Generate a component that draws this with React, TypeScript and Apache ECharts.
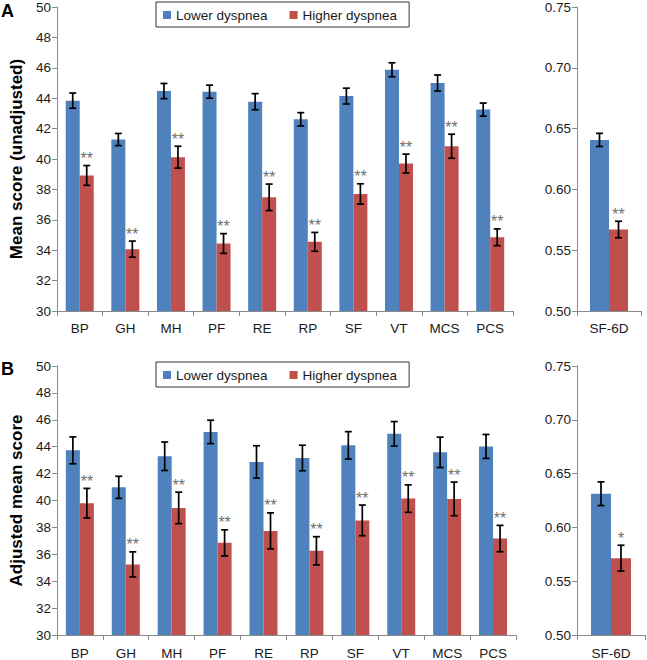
import React, { useEffect, useRef } from "react";
import * as echarts from "echarts";

const categories = ["BP", "GH", "MH", "PF", "RE", "RP", "SF", "VT", "MCS", "PCS"];
const sf6dCategory = ["SF-6D"];
const seriesNames = ["Lower dyspnea", "Higher dyspnea"];

// Panel A: mean score (unadjusted)
const aLower = [43.84, 41.28, 44.47, 44.43, 43.77, 42.61, 44.14, 45.87, 45.0, 43.25];
const aLowerErr = [0.5, 0.4, 0.5, 0.43, 0.53, 0.44, 0.52, 0.46, 0.53, 0.43];
const aHigher = [38.92, 34.07, 40.12, 34.44, 37.48, 34.55, 37.7, 39.7, 40.84, 34.85];
const aHigherErr = [0.65, 0.53, 0.72, 0.65, 0.87, 0.62, 0.67, 0.62, 0.79, 0.55];
const aSig = ["**", "**", "**", "**", "**", "**", "**", "**", "**", "**"];
const aSfLower = [0.6407];
const aSfLowerErr = [0.0054];
const aSfHigher = [0.567];
const aSfHigherErr = [0.0068];
const aSfSig = ["**"];

// Panel B: adjusted mean score
const bLower = [43.73, 40.98, 43.29, 45.1, 42.87, 43.16, 44.1, 44.96, 43.58, 44.02];
const bLowerErr = [1.0, 0.82, 1.06, 0.87, 1.2, 0.95, 1.02, 0.91, 1.13, 0.89];
const bHigher = [39.8, 35.25, 39.45, 36.85, 37.74, 36.26, 38.52, 40.14, 40.12, 37.17];
const bHigherErr = [1.1, 0.93, 1.17, 0.97, 1.34, 1.05, 1.14, 1.02, 1.25, 0.98];
const bSig = ["**", "**", "**", "**", "**", "**", "**", "**", "**", "**"];
const bSfLower = [0.6313];
const bSfLowerErr = [0.011];
const bSfHigher = [0.5714];
const bSfHigherErr = [0.012];
const bSfSig = ["*"];

const FONT = "'Liberation Sans', Arial, sans-serif";
const BLUE = "#4F81BD";
const RED = "#C0504D";
const AXIS = "#8a8a8a";

function errSeries(axisIdx: number, values: number[], errs: number[], sigs: string[] | null, sign: number, barW: number) {
  return {
    type: "custom",
    name: "err" + axisIdx + "_" + sign,
    xAxisIndex: axisIdx,
    yAxisIndex: axisIdx,
    silent: true,
    z: 10,
    data: values.map((v, i) => [i, v, errs[i]]),
    renderItem: (params: any, api: any) => {
      const i = api.value(0);
      const v = api.value(1);
      const e = api.value(2);
      const top = api.coord([i, v + e]);
      const bot = api.coord([i, v - e]);
      const x = top[0] + (sign * barW) / 2;
      const cap = 3.5;
      const st = { stroke: "#000", lineWidth: 1.7 };
      const children: any[] = [
        { type: "line", shape: { x1: x, y1: top[1], x2: x, y2: bot[1] }, style: st },
        { type: "line", shape: { x1: x - cap, y1: top[1], x2: x + cap, y2: top[1] }, style: st },
        { type: "line", shape: { x1: x - cap, y1: bot[1], x2: x + cap, y2: bot[1] }, style: st },
      ];
      const s = sigs ? sigs[params.dataIndex] : "";
      if (s) {
        children.push({
          type: "text",
          x: x,
          y: top[1] - 7,
          style: {
            text: s,
            fill: "#707070",
            fontSize: 16,
            fontFamily: FONT,
            align: "center",
            verticalAlign: "middle",
          },
        });
      }
      return { type: "group", children };
    },
  };
}

function xAxisOf(gridIndex: number, data: string[], margin: number) {
  return {
    type: "category",
    gridIndex,
    data,
    axisLine: { lineStyle: { color: AXIS, width: 1 } },
    axisTick: { show: true, length: 5, lineStyle: { color: AXIS } },
    axisLabel: { color: "#1a1a1a", fontSize: 13.5, fontFamily: FONT, margin, interval: 0 },
    splitLine: { show: false },
  };
}

function yAxisOf(gridIndex: number, min: number, max: number, interval: number, dec: number, name: string) {
  return {
    type: "value",
    gridIndex,
    min,
    max,
    interval,
    name,
    nameLocation: "middle",
    nameGap: 31,
    nameTextStyle: { fontSize: 17, fontWeight: "bold", color: "#000", fontFamily: FONT },
    axisLine: { show: true, lineStyle: { color: AXIS, width: 1 } },
    axisTick: { show: true, length: 5, lineStyle: { color: AXIS } },
    axisLabel: {
      color: "#1a1a1a",
      fontSize: 13.5,
      fontFamily: FONT,
      margin: 6,
      formatter: (v: number) => v.toFixed(dec),
    },
    splitLine: { show: false },
  };
}

function barPair(axisIdx: number, lower: number[], higher: number[], barW: number) {
  return [
    {
      type: "bar",
      name: seriesNames[0],
      xAxisIndex: axisIdx,
      yAxisIndex: axisIdx,
      data: lower,
      barWidth: barW,
      barGap: "0%",
      itemStyle: { color: BLUE },
      silent: true,
    },
    {
      type: "bar",
      name: seriesNames[1],
      xAxisIndex: axisIdx,
      yAxisIndex: axisIdx,
      data: higher,
      barWidth: barW,
      barGap: "0%",
      itemStyle: { color: RED },
      silent: true,
    },
  ];
}

function legendOf(top: number) {
  return {
    data: seriesNames,
    left: 156,
    top,
    orient: "horizontal",
    icon: "rect",
    itemWidth: 8,
    itemHeight: 8,
    itemGap: 22,
    padding: [6, 12, 5, 7],
    borderColor: "#333",
    borderWidth: 1,
    selectedMode: false,
    textStyle: { fontSize: 13.5, fontFamily: FONT, color: "#1a1a1a" },
  };
}

export default function App() {
  const ref = useRef<HTMLDivElement>(null);
  useEffect(() => {
    if (!ref.current) return;
    const chart = echarts.init(ref.current, null, { renderer: "svg" });
    const wL = 14;
    const wR = 19;
    chart.setOption({
      animation: false,
      backgroundColor: "#fff",
      textStyle: { fontFamily: FONT },
      grid: [
        { left: 53, top: 5, width: 460, height: 306 },
        { left: 577, top: 5, width: 64, height: 306 },
        { left: 53, top: 366, width: 463, height: 271.5 },
        { left: 577, top: 366, width: 68, height: 271.5 },
      ],
      legend: [legendOf(2), legendOf(362)],
      xAxis: [
        xAxisOf(0, categories, 10),
        xAxisOf(1, sf6dCategory, 10),
        xAxisOf(2, categories, 11),
        xAxisOf(3, sf6dCategory, 11),
      ],
      yAxis: [
        yAxisOf(0, 30, 50, 2, 0, "Mean score (unadjusted)"),
        yAxisOf(1, 0.5, 0.75, 0.05, 2, ""),
        yAxisOf(2, 30, 50, 2, 0, "Adjusted mean score"),
        yAxisOf(3, 0.5, 0.75, 0.05, 2, ""),
      ],
      graphic: [
        { type: "text", left: 1, top: 2, style: { text: "A", fontSize: 18, fontWeight: "bold", fill: "#000", fontFamily: FONT } },
        { type: "text", left: 1, top: 360, style: { text: "B", fontSize: 18, fontWeight: "bold", fill: "#000", fontFamily: FONT } },
      ],
      series: [
        ...barPair(0, aLower, aHigher, wL),
        ...barPair(1, aSfLower, aSfHigher, wR),
        ...barPair(2, bLower, bHigher, wL),
        ...barPair(3, bSfLower, bSfHigher, wR + 1),
        errSeries(0, aLower, aLowerErr, null, -1, wL),
        errSeries(0, aHigher, aHigherErr, aSig, 1, wL),
        errSeries(1, aSfLower, aSfLowerErr, null, -1, wR),
        errSeries(1, aSfHigher, aSfHigherErr, aSfSig, 1, wR),
        errSeries(2, bLower, bLowerErr, null, -1, wL),
        errSeries(2, bHigher, bHigherErr, bSig, 1, wL),
        errSeries(3, bSfLower, bSfLowerErr, null, -1, wR + 1),
        errSeries(3, bSfHigher, bSfHigherErr, bSfSig, 1, wR + 1),
      ],
    });
    return () => chart.dispose();
  }, []);
  return (
    <div
      ref={ref}
      style={{ position: "absolute", left: 0, top: 0, width: 647, height: 660, background: "#fff" }}
    />
  );
}
